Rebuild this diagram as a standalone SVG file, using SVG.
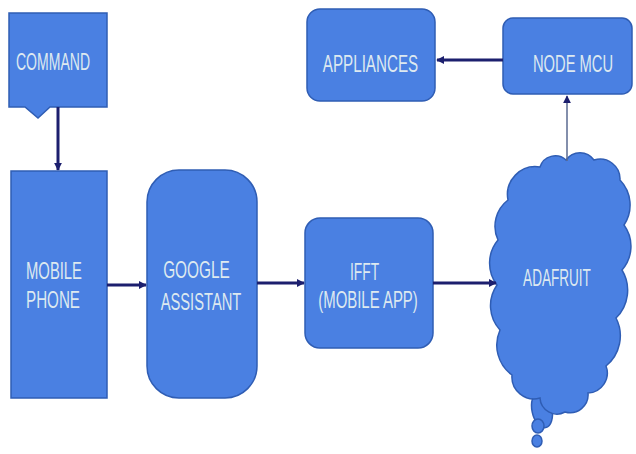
<svg xmlns="http://www.w3.org/2000/svg" width="636" height="454" viewBox="0 0 636 454">
<defs>
<style>
.box{fill:#4a80e2;stroke:#2f5db4;stroke-width:1.5}
.lbl{font-family:"Liberation Sans",Arial,sans-serif;font-size:23px;fill:#dde9f0;text-anchor:middle}
.con{stroke:#1c1f6e;stroke-width:3;fill:none}
.thin{stroke:#5a6a90;stroke-width:1.5;fill:none}
</style>
<marker id="ah" viewBox="0 0 10 10" refX="9" refY="5" markerWidth="8" markerHeight="8" markerUnits="userSpaceOnUse" orient="auto">
<path d="M0,0 L10,5 L0,10 Z" fill="#1c1f6e"/>
</marker>
</defs>
<rect width="636" height="454" fill="#ffffff"/>
<g id="command">
<path class="box" d="M9,13 H107 V107 H50 L38,118 L25,107 H9 Z"/>
<text class="lbl" transform="translate(53,70) scale(0.61,1)">COMMAND</text>
</g>
<g id="mobile-phone">
<rect class="box" x="11" y="171" width="96" height="227"/>
<text class="lbl" transform="translate(54,279) scale(0.644,1)">MOBILE</text>
<text class="lbl" transform="translate(53,308) scale(0.66,1)">PHONE</text>
</g>
<g id="google-assistant">
<rect class="box" x="147" y="170" width="110" height="228" rx="32" ry="32"/>
<text class="lbl" transform="translate(196.5,278) scale(0.67,1)">GOOGLE</text>
<text class="lbl" transform="translate(201,310) scale(0.64,1)">ASSISTANT</text>
</g>
<g id="ifft">
<rect class="box" x="305" y="218" width="128" height="130" rx="15" ry="15"/>
<text class="lbl" transform="translate(364.5,280) scale(0.6,1)">IFFT</text>
<text class="lbl" transform="translate(368,308) scale(0.65,1)">(MOBILE APP)</text>
</g>
<g id="appliances">
<rect class="box" x="307" y="9" width="128" height="92" rx="13" ry="13"/>
<text class="lbl" transform="translate(370.5,72) scale(0.66,1)">APPLIANCES</text>
</g>
<g id="node-mcu">
<rect class="box" x="503" y="18" width="129" height="76" rx="10" ry="10"/>
<text class="lbl" transform="translate(573,72) scale(0.64,1)">NODE MCU</text>
</g>
<g id="adafruit">
<ellipse class="box" cx="542" cy="410" rx="10" ry="18" transform="rotate(-12 542 410)"/>
<path class="box" d="M508,200 A28,28 0 0 1 540,167 A16,16 0 0 1 566,160 A17,17 0 0 1 594,160 A20,20 0 0 1 620,180 A36,36 0 0 1 624,225 A36,36 0 0 1 622,270 A39,39 0 0 1 616,318 A39,39 0 0 1 606,366 A20,20 0 0 1 588,393 A18,18 0 0 1 565,412 A17,17 0 0 1 540,398 A22,22 0 0 1 512,375 A37,37 0 0 1 500,330 A36,36 0 0 1 497,285 A36,36 0 0 1 498,240 A33,33 0 0 1 508,200 Z"/>
<ellipse class="box" cx="538" cy="426" rx="6" ry="7"/>
<ellipse class="box" cx="537" cy="441" rx="5" ry="6"/>
<text class="lbl" transform="translate(557,286) scale(0.59,1)">ADAFRUIT</text>
</g>
<g id="connectors">
<path class="con" d="M58,107 V170" marker-end="url(#ah)"/>
<path class="con" d="M107,285 H146" marker-end="url(#ah)"/>
<path class="con" d="M257,283 H304" marker-end="url(#ah)"/>
<path class="con" d="M433,283 H496" marker-end="url(#ah)"/>
<path class="thin" d="M567,161 V96" marker-end="url(#ah)"/>
<path class="con" d="M503,60 H437" marker-end="url(#ah)"/>
</g>
</svg>
